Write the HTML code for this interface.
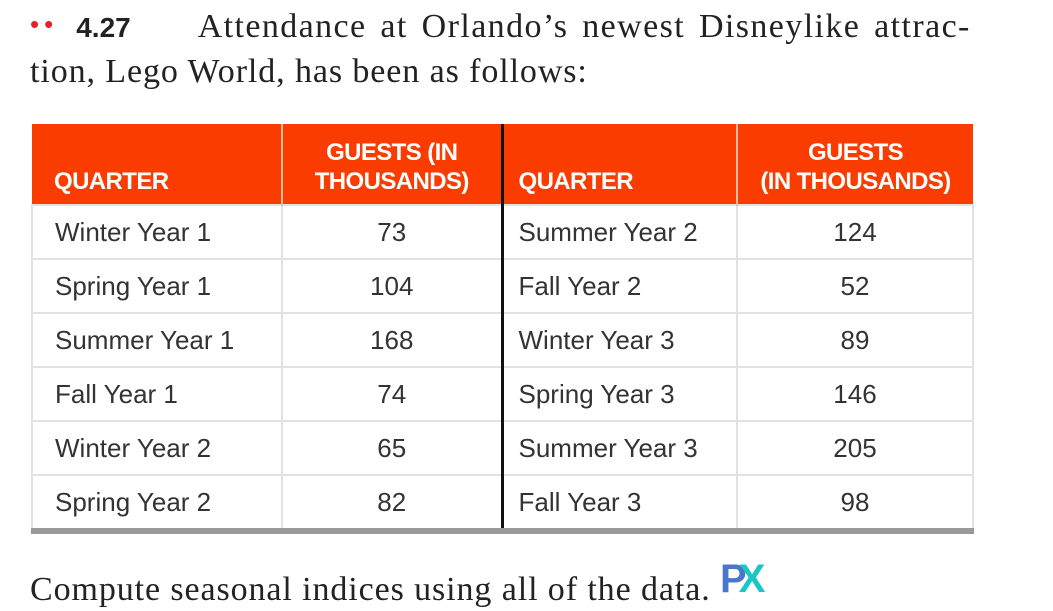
<!DOCTYPE html>
<html><head><meta charset="utf-8"><style>
body{margin:0;width:1053px;height:611px;background:#fff;position:relative;overflow:hidden}
.t{position:absolute;font-family:"Liberation Serif",serif;font-size:34px;letter-spacing:0.9px;color:#222;white-space:nowrap}
table{position:absolute;left:31px;top:124px;border-collapse:collapse;font-family:"Liberation Sans",sans-serif;table-layout:fixed}
th{background:#fa3c00;color:#fff;font-family:"Liberation Sans Narrow","Liberation Sans",sans-serif;font-weight:bold;font-size:24px;letter-spacing:-0.6px;line-height:29px;height:73px;padding:0 0 8px 0;vertical-align:bottom;border-right:2px solid #f3b9a0;box-sizing:border-box}
td{height:52px;border:2px solid #e2e2e2;font-size:26px;color:#333;padding:0}
td.l{padding-left:22px}
td.n{text-align:center}
.sep{border-right:3px solid #111}
</style></head><body>
<div class="t" style="left:30px;top:8px"><span style="color:#e8202a;font-family:'Liberation Sans';font-size:26px;position:relative;top:-4px;letter-spacing:5px">••</span><span style="display:inline-block;width:18px"></span><b style="font-family:'Liberation Sans',sans-serif;font-size:28px;letter-spacing:0">4.27</b><span style="display:inline-block;width:67px"></span><span style="letter-spacing:1.4px;word-spacing:4px">Attendance at Orlando’s newest Disneylike attrac-</span></div>
<div class="t" style="left:30px;top:53px">tion, Lego World, has been as follows:</div>
<table>
<colgroup><col style="width:250px"><col style="width:220px"><col style="width:235px"><col style="width:236px"></colgroup>
<tr><th style="text-align:left;padding-left:22px;height:81px">QUARTER</th><th class="sep" style="text-align:center">GUESTS (IN<br>THOUSANDS)</th><th style="text-align:left;padding-left:15px">QUARTER</th><th style="text-align:center;border-right:none">GUESTS<br>(IN THOUSANDS)</th></tr>
<tr><td class="l">Winter Year 1</td><td class="n sep">73</td><td class="l" style="padding-left:15px">Summer Year 2</td><td class="n">124</td></tr>
<tr><td class="l">Spring Year 1</td><td class="n sep">104</td><td class="l" style="padding-left:15px">Fall Year 2</td><td class="n">52</td></tr>
<tr><td class="l">Summer Year 1</td><td class="n sep">168</td><td class="l" style="padding-left:15px">Winter Year 3</td><td class="n">89</td></tr>
<tr><td class="l">Fall Year 1</td><td class="n sep">74</td><td class="l" style="padding-left:15px">Spring Year 3</td><td class="n">146</td></tr>
<tr><td class="l">Winter Year 2</td><td class="n sep">65</td><td class="l" style="padding-left:15px">Summer Year 3</td><td class="n">205</td></tr>
<tr><td class="l" style="border-bottom:6px solid #999">Spring Year 2</td><td class="n sep" style="border-bottom:6px solid #999">82</td><td class="l" style="padding-left:15px;border-bottom:6px solid #999">Fall Year 3</td><td class="n" style="border-bottom:6px solid #999">98</td></tr>
</table>
<div class="t" style="left:30px;top:565px">Compute seasonal indices using all of the data. <span style="font-family:'Liberation Sans',sans-serif;font-weight:bold;font-size:40px;position:relative;top:-8px;letter-spacing:-8px"><span style="color:#4a78c8">P</span><span style="color:#1cc6c6">X</span></span></div>
</body></html>
